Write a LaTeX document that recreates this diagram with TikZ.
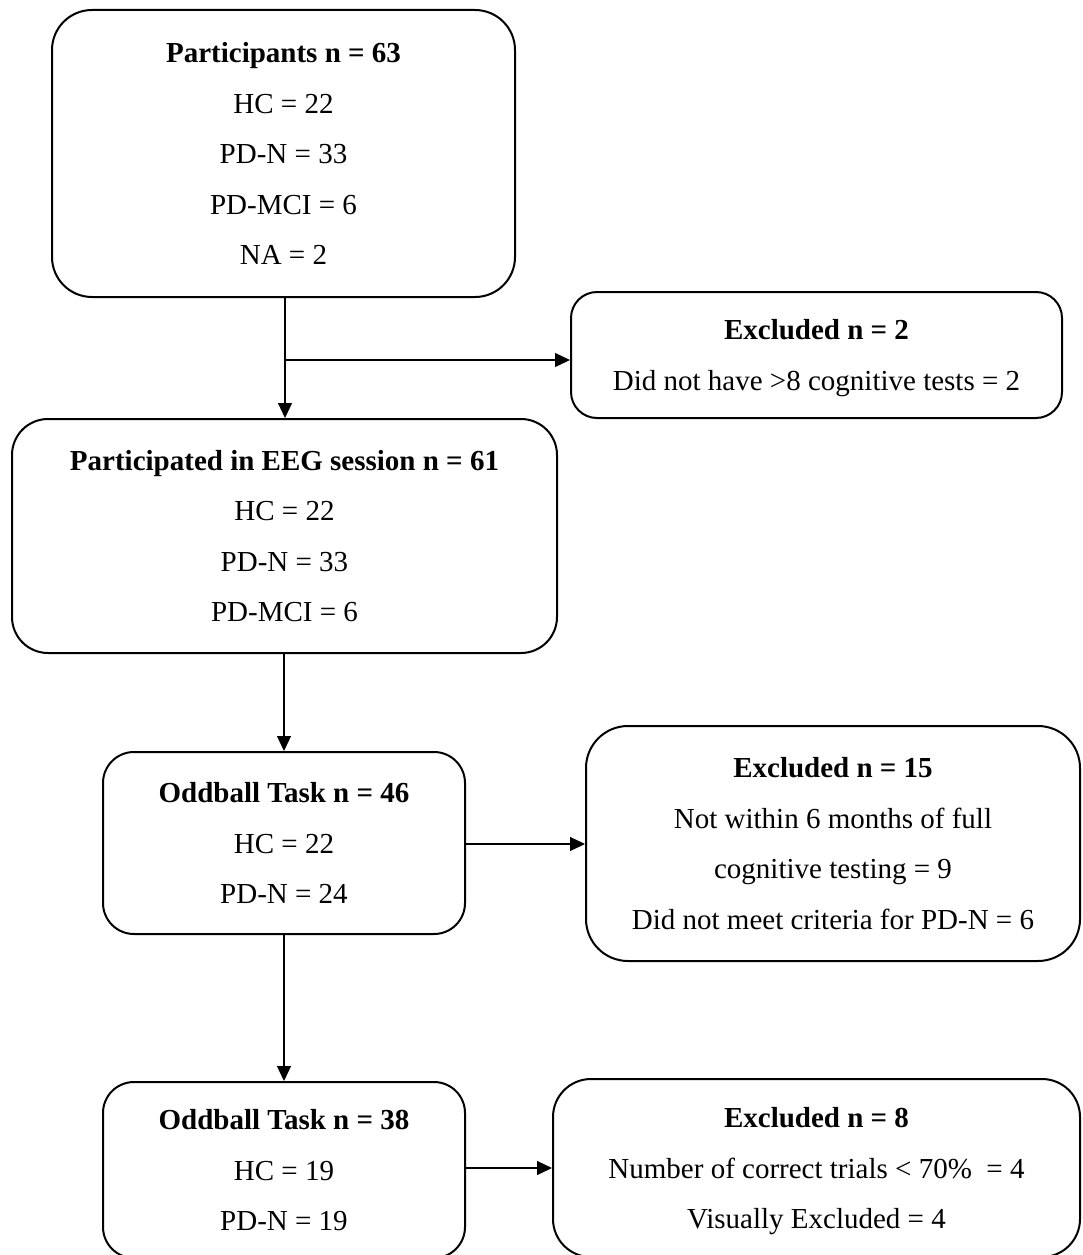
\documentclass[tikz,border=0pt]{standalone}
\usepackage{fontspec}
\setmainfont{Liberation Serif}
\usetikzlibrary{arrows.meta}
\tikzset{
  flowbox/.style={draw=black, line width=2pt, fill=white, align=center,
    inner sep=0pt, text depth=0pt, font=\fontsize{29}{50.5}\selectfont},
  arr/.style={draw=black, line width=1.2pt, -{Triangle[length=15pt,width=14pt]}},
  plainline/.style={draw=black, line width=1.2pt}
}
\begin{document}
\begin{tikzpicture}[x=1pt,y=-1pt]
\clip (0,0) rectangle (1082,1255);
\fill[white] (0,0) rectangle (1082,1255);
% boxes
\node[flowbox, rounded corners=40pt, minimum width=463pt, minimum height=287pt] (b1) at (283.5,153.5)
  {\textbf{Participants n = 63}\\HC = 22\\PD-N = 33\\PD-MCI = 6\\NA = 2};
\node[flowbox, rounded corners=26pt, minimum width=491pt, minimum height=126pt] (b2) at (816.5,355)
  {\textbf{Excluded n = 2}\\Did not have >8 cognitive tests = 2};
\node[flowbox, rounded corners=36pt, minimum width=545pt, minimum height=234pt] (b3) at (284.5,536)
  {\textbf{Participated in EEG session n = 61}\\HC = 22\\PD-N = 33\\PD-MCI = 6};
\node[flowbox, rounded corners=31pt, minimum width=362pt, minimum height=182pt] (b4) at (284,843)
  {\textbf{Oddball Task n = 46}\\HC = 22\\PD-N = 24};
\node[flowbox, rounded corners=42pt, minimum width=494pt, minimum height=235pt] (b5) at (833,843.5)
  {\textbf{Excluded n = 15}\\Not within 6 months of full\\cognitive testing = 9\\Did not meet criteria for PD-N = 6};
\node[flowbox, rounded corners=31pt, minimum width=362pt, minimum height=176pt] (b6) at (284,1170)
  {\textbf{Oddball Task n = 38}\\HC = 19\\PD-N = 19};
\node[flowbox, rounded corners=38pt, minimum width=527pt, minimum height=178pt] (b7) at (816.5,1168)
  {\textbf{Excluded n = 8}\\Number of correct trials < 70\%\ \ = 4\\Visually Excluded = 4};
% connectors
\coordinate (j1) at (285,360);
\draw[arr] (b1.south -| j1) -- (b3.north -| j1);
\draw[arr] (j1) -- (b2.west |- j1);
\coordinate (j2) at (284,700);
\draw[arr] (b3.south -| j2) -- (b4.north -| j2);
\coordinate (j3) at (500,844);
\draw[arr] (b4.east |- j3) -- (b5.west |- j3);
\draw[arr] (b4.south -| j2) -- (b6.north -| j2);
\coordinate (j4) at (500,1168);
\draw[arr] (b6.east |- j4) -- (b7.west |- j4);
\end{tikzpicture}
\end{document}
